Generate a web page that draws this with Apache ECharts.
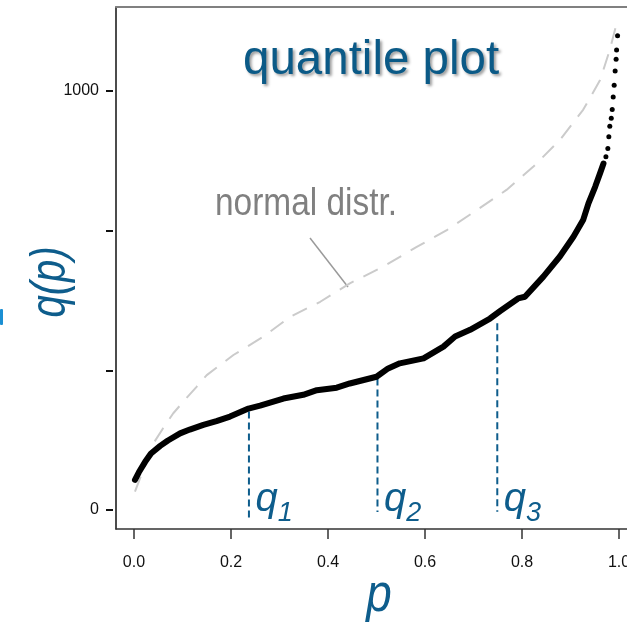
<!DOCTYPE html>
<html>
<head>
<meta charset="utf-8">
<style>
  html, body { margin: 0; padding: 0; background: #fff; }
  #main { width: 627px; height: 629px; }
</style>
<script src="https://cdn.jsdelivr.net/npm/echarts@6.0.0/dist/echarts.min.js"></script>
</head>
<body>
<div id="main"></div>
<script>
// sorted sample quantiles (the thick black body of the curve)
const sampleP = [0.002, 0.010, 0.023, 0.035, 0.054, 0.070, 0.095, 0.115, 0.143, 0.170, 0.198, 0.236, 0.260, 0.308, 0.349, 0.377, 0.418, 0.445, 0.500, 0.524, 0.548, 0.597, 0.638, 0.662, 0.693, 0.734, 0.755, 0.792, 0.806, 0.844, 0.878, 0.906, 0.926, 0.937, 0.951, 0.961, 0.968]
const sampleQ = [72, 90, 115, 135, 153, 166, 183, 192, 203, 212, 223, 242, 249, 266, 275, 286, 292, 302, 318, 338, 350, 362, 390, 414, 430, 457, 475, 505, 509, 557, 605, 652, 692, 732, 772, 804, 827]
// upper tail, single points
const tailP = [0.973, 0.977, 0.979, 0.981, 0.984, 0.986, 0.988, 0.990, 0.992, 0.994, 0.995, 0.997]
const tailQ = [843, 863, 891, 916, 935, 956, 986, 1014, 1048, 1076, 1098, 1132]
// normal distribution quantiles (dashed grey)
const normP = [0.002, 0.040, 0.060, 0.081, 0.105, 0.129, 0.150, 0.205, 0.267, 0.322, 0.384, 0.445, 0.514, 0.583, 0.645, 0.707, 0.768, 0.823, 0.878, 0.926, 0.961, 0.981, 0.995]
const normQ = [44, 159, 195, 231, 263, 294, 322, 370, 414, 461, 497, 541, 581, 628, 668, 716, 764, 819, 883, 955, 1026, 1098, 1161]
// quartiles
const quartP = [0.237, 0.502, 0.749]
const quartTop = [235, 314, 446]
const quartBottom = [-19, -5, -4]
const quartNames = ['1', '2', '3']
const quartLabelQ = 24
// axes
const xTicks = [0, 0.2, 0.4, 0.6, 0.8, 1.0]
const yTicks = [0, 333.33, 666.67, 1000]
const yTickLabels = [0, 1000]

const blue = '#0e5d8c'
const font = 'Liberation Sans, Arial, sans-serif'

const zip = (a, b) => a.map((v, i) => [v, b[i]])

let myChart = echarts.init(document.getElementById('main'))

let quartSeries = quartP.map((p, i) => ({
  type: 'line',
  data: [[p, quartTop[i]], [p, quartBottom[i]]],
  symbol: 'none',
  lineStyle: { color: blue, width: 2, type: [7, 4] },
  z: 3
}))

myChart.setOption({
  animation: false,
  title: {
    text: 'quantile plot',
    left: 243,
    top: 37,
    padding: 0,
    textStyle: {
      fontFamily: font,
      fontSize: 47.5,
      fontWeight: 'normal',
      color: '#0b5a87',
      textShadowColor: 'rgba(0,0,0,0.4)',
      textShadowBlur: 3,
      textShadowOffsetX: 2,
      textShadowOffsetY: 2
    }
  },
  grid: { left: 116, top: 7, right: -20, bottom: 100, outerBoundsMode: 'none' },
  xAxis: [{
    type: 'value',
    min: -0.0371,
    max: 1.0577,
    position: 'bottom',
    axisLine: { show: true, onZero: false, lineStyle: { color: '#333', width: 1.5 } },
    axisTick: { show: true, customValues: xTicks, length: 10, lineStyle: { color: '#333', width: 1.5 } },
    axisLabel: {
      customValues: xTicks,
      formatter: v => v.toFixed(1),
      margin: 26,
      fontSize: 16,
      fontFamily: font,
      color: '#111'
    },
    splitLine: { show: false }
  }, {
    type: 'value',
    min: -0.0371,
    max: 1.0577,
    position: 'top',
    axisLine: { show: true, onZero: false, lineStyle: { color: '#808080', width: 2 } },
    axisTick: { show: false },
    axisLabel: { show: false },
    splitLine: { show: false }
  }],
  yAxis: [{
    type: 'value',
    min: -45.3,
    max: 1200.5,
    position: 'left',
    axisLine: { show: true, onZero: false, lineStyle: { color: '#111', width: 1.5 } },
    axisTick: { show: false },
    axisLabel: { show: false },
    splitLine: { show: false }
  }, {
    type: 'value',
    min: -45.3,
    max: 1200.5,
    position: 'left',
    offset: 3,
    axisLine: { show: false, onZero: false },
    axisTick: { show: true, customValues: yTicks, length: 7, lineStyle: { color: '#111', width: 2 } },
    axisLabel: {
      customValues: yTickLabels,
      formatter: v => String(Math.round(v)),
      margin: 14,
      fontSize: 16,
      fontFamily: font,
      color: '#111'
    },
    splitLine: { show: false }
  }],
  series: [
    {
      name: 'normal distr.',
      type: 'line',
      data: zip(normP, normQ),
      symbol: 'none',
      lineStyle: { color: '#cbcbcb', width: 2, type: [16, 11] },
      z: 1
    },
    ...quartSeries,
    {
      name: 'q(p)',
      type: 'line',
      data: zip(sampleP, sampleQ),
      symbol: 'none',
      lineStyle: { color: '#000', width: 6, cap: 'round', join: 'round' },
      z: 4
    },
    {
      name: 'tail',
      type: 'scatter',
      data: zip(tailP, tailQ),
      symbolSize: 5,
      itemStyle: { color: '#000', opacity: 1 },
      z: 4
    },
    {
      name: 'quartile labels',
      type: 'scatter',
      data: quartP.map(p => [p, quartLabelQ]),
      symbolSize: 1,
      itemStyle: { color: 'rgba(0,0,0,0)' },
      silent: true,
      label: {
        show: true,
        position: 'right',
        distance: 6,
        opacity: 1,
        formatter: params => '{q|q}{s|' + quartNames[params.dataIndex] + '}',
        rich: {
          q: { fontSize: 40, fontStyle: 'italic', fontFamily: font, color: blue, opacity: 1, lineHeight: 40, verticalAlign: 'bottom' },
          s: { fontSize: 27, fontStyle: 'italic', fontFamily: font, color: blue, opacity: 1, lineHeight: 27, verticalAlign: 'bottom', padding: [0, 0, -7, 0] }
        }
      },
      z: 5
    }
  ],
  graphic: [
    {
      type: 'text',
      x: 215,
      y: 205,
      scaleX: 0.88,
      style: { text: 'normal distr.', fontSize: 38, fontFamily: font, fill: '#808080', align: 'left', verticalAlign: 'middle' }
    },
    {
      type: 'line',
      shape: { x1: 310, y1: 238, x2: 348, y2: 287 },
      style: { stroke: '#9a9a9a', lineWidth: 1.5 }
    },
    {
      type: 'text',
      x: 51,
      y: 282,
      rotation: Math.PI / 2,
      scaleX: 0.8,
      style: { text: 'q(p)', fontSize: 50, fontStyle: 'italic', fontFamily: font, fill: blue, align: 'center', verticalAlign: 'middle' }
    },
    {
      type: 'text',
      x: 379,
      y: 596,
      scaleX: 0.85,
      style: { text: 'p', fontSize: 54, fontStyle: 'italic', fontFamily: font, fill: blue, align: 'center', verticalAlign: 'middle' }
    },
    {
      type: 'rect',
      shape: { x: 0, y: 309, width: 3, height: 16, r: 1 },
      style: { fill: '#1b8fd3' }
    }
  ]
})
</script>
</body>
</html>
